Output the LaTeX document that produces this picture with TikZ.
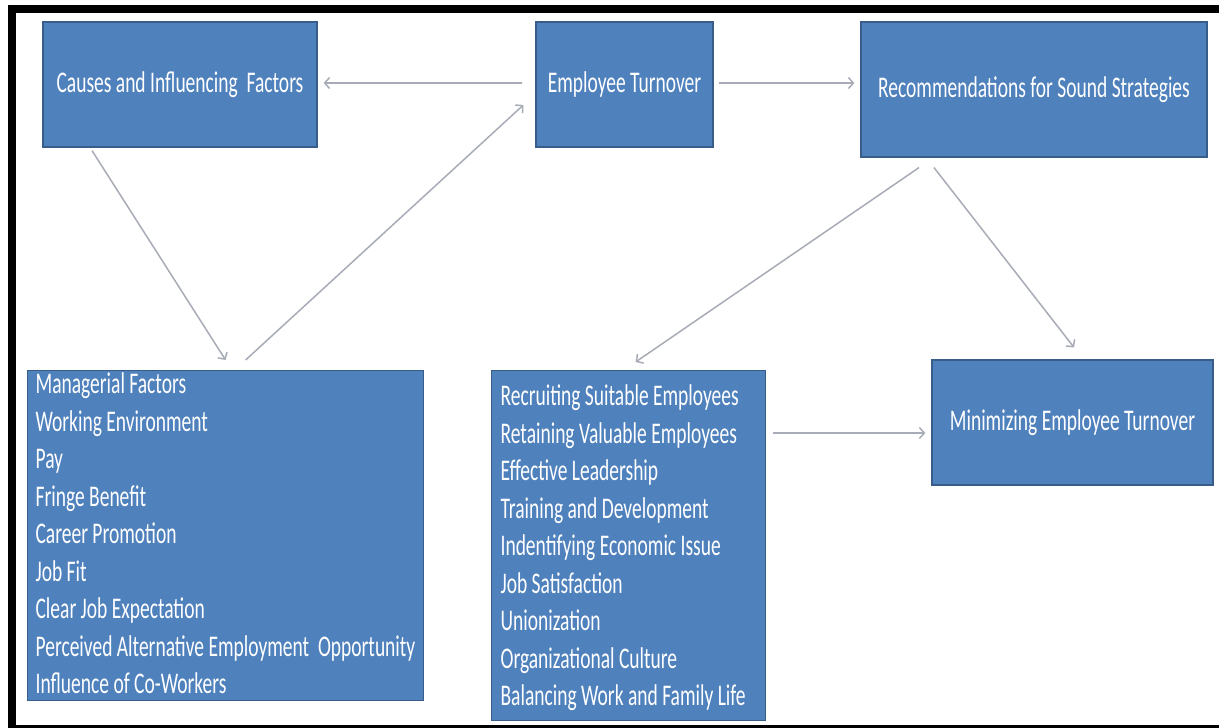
\documentclass[tikz,border=0pt]{standalone}
\usepackage{fontspec}
\newfontfamily\calfont[FakeStretch=0.65]{Carlito}
\usetikzlibrary{arrows.meta}
\definecolor{boxblue}{RGB}{79,129,189}
\definecolor{boxedge}{RGB}{56,93,138}
\definecolor{arrgray}{RGB}{168,172,182}
\begin{document}
\begin{tikzpicture}[x=1pt,y=-1pt,
  box/.style={draw=boxedge, line width=1.2pt, fill=boxblue, text=white,
    font=\calfont\fontsize{30}{37.5}\selectfont, inner sep=0pt, align=center},
  listbox/.style={box, align=left, anchor=north west, inner ysep=0pt},
  arr/.style={draw=arrgray, line width=1.5pt, -{Straight Barb[length=5pt,width=11pt]}}]
\useasboundingbox (0,0) rectangle (1219,728);
\fill[white] (0,0) rectangle (1219,728);
% black frame
\fill[black] (8,5) rectangle (1219,13);
\fill[black] (8,5) rectangle (16,728);
\fill[black] (8,725) rectangle (1219,728);
% boxes
\node[box, minimum width=274pt, minimum height=125pt] (causes) at (180,84.5) {Causes and Influencing\ \ Factors};
\node[box, minimum width=177pt, minimum height=125pt] (et) at (624.5,84.5) {Employee Turnover};
\node[box, minimum width=346pt, minimum height=135pt] (rec) at (1034,89.5) {Recommendations for Sound Strategies};
\node[box, minimum width=281pt, minimum height=125pt] (mini) at (1072.5,422.5) {Minimizing Employee Turnover};
\node[listbox, inner xsep=8pt] (left) at (27,370) {\makebox[380pt][l]{\rule{0pt}{23pt}Managerial Factors}\\
Working Environment\\
Pay\\
Fringe Benefit\\
Career Promotion\\
Job Fit\\
Clear Job Expectation\\
Perceived Alternative Employment\ \ Opportunity\\
Influence of Co-Workers\rule[-7pt]{0pt}{7pt}};
\node[listbox, inner xsep=9pt] (mid) at (491,370) {\makebox[256pt][l]{\rule{0pt}{35pt}Recruiting Suitable Employees}\\
Retaining Valuable Employees\\
Effective Leadership\\
Training and Development\\
Indentifying Economic Issue\\
Job Satisfaction\\
Unionization\\
Organizational Culture\\
Balancing Work and Family Life\rule[-15pt]{0pt}{15pt}};
% connectors
\draw[arr, shorten <=13pt, shorten >=6pt] ([yshift=1.5pt]et.west) -- ([yshift=1.5pt]causes.east);
\coordinate (e1) at ([yshift=1.5pt]et.east);
\draw[arr, shorten <=5pt, shorten >=6pt] (e1) -- (e1 -| rec.west);
\draw[arr] ([xshift=-88pt,yshift=-3pt]causes.south) -- ([yshift=10pt]left.north);
\draw[arr] ([xshift=20pt,yshift=10pt]left.north) -- ([xshift=-12pt,yshift=-20.5pt]et.west);
\draw[arr] ([xshift=-115pt,yshift=-10pt]rec.south) -- ([xshift=7pt,yshift=8pt]mid.north);
\draw[arr] ([xshift=-100pt,yshift=-10pt]rec.south) -- ([xshift=1.5pt,yshift=12pt]mini.north);
\coordinate (m1) at ([yshift=-10.5pt]mini.west);
\draw[arr, shorten <=7pt, shorten >=6pt] (mid.east |- m1) -- (m1);
\end{tikzpicture}
\end{document}
